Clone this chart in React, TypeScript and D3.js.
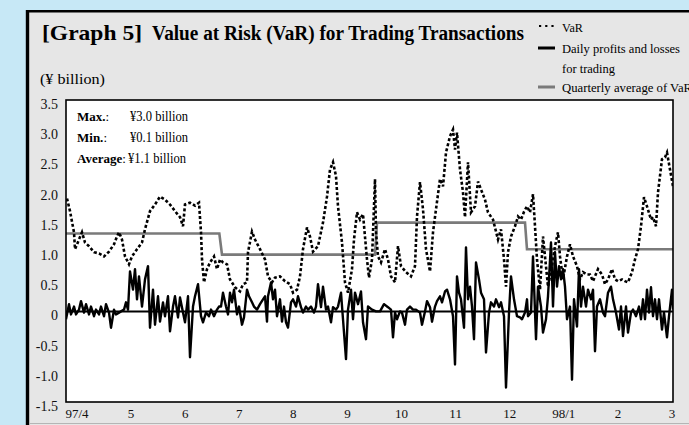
import React, { useEffect, useRef } from 'react';
import * as d3 from 'd3';

const monthLabels = ['97/4', '5', '6', '7', '8', '9', '10', '11', '12', '98/1', '2', '3'];
const yTicks = [3.5, 3.0, 2.5, 2.0, 1.5, 1.0, 0.5, 0, -0.5, -1.0, -1.5];

// [days since 97/4/1, ¥ billion]
const varSeries: [number, number][] = [
  [0.6, 1.87], [2.4, 1.66], [4.8, 1.31], [5.4, 1.03], [7.8, 1.19], [9.6, 1.31], [11.4, 1.14],
  [13.8, 1.08], [16.8, 0.98], [19.8, 0.96], [22.8, 0.91], [25.8, 0.99], [28.8, 1.11], [30.6, 1.24],
  [31.8, 1.31], [33.6, 1.19], [35.4, 0.91], [37.8, 0.78], [39.6, 0.91], [42.6, 1.03], [45.6, 1.14],
  [47.4, 1.36], [50.4, 1.66], [53.4, 1.77], [56.4, 1.9], [59.4, 1.85], [62.4, 1.77], [65.4, 1.66],
  [68.4, 1.56], [70.2, 1.41], [71.4, 1.77], [74.4, 1.8], [77.4, 1.75], [79.8, 1.8], [81, 1.31],
  [81.6, 0.86], [82.8, 0.48], [84.6, 0.7], [86.4, 0.81], [88.8, 0.91], [90.6, 0.7], [92.4, 0.86],
  [94.2, 0.81], [96.6, 0.78], [98.4, 0.53], [101.4, 0.4], [104.4, 0.33], [106.2, 0.45], [108.6, 0.48],
  [109.2, 0.98], [111.6, 1.32], [113.4, 1.19], [116.4, 1.03], [119.4, 0.86], [121.2, 0.58],
  [123.6, 0.48], [125.4, 0.56], [128.4, 0.58], [131.4, 0.5], [134.4, 0.45], [136.2, 0.31],
  [138.6, 0.36], [140.4, 0.58], [142.2, 1.03], [144.6, 1.39], [146.4, 1.24], [148.2, 0.99],
  [151.2, 1.08], [154.2, 1.47], [156.6, 1.9], [158.4, 2.35], [160.2, 2.47], [162, 2.24],
  [163.2, 1.74], [165.6, 1.14], [167.4, 0.48], [169.2, 0.31], [171.6, 0.7], [172.8, 1.19],
  [174.6, 1.64], [176.4, 1.52], [178.2, 1.61], [180.6, 0.86], [181.8, 0.56], [183.6, 0.86],
  [185.4, 2.19], [186, 1.31], [187.2, 0.91], [189, 0.81], [191.4, 1.03], [193.2, 0.86], [195, 0.58],
  [197.4, 0.48], [199.2, 1.08], [201, 0.75], [204, 0.65], [207, 0.58], [209.4, 0.75], [210.6, 1.57],
  [212.4, 2.14], [214.2, 1.69], [216, 1.03], [218.4, 0.66], [220.2, 1.31], [222, 1.69], [224.4, 2.19],
  [226.2, 2.07], [228, 2.63], [230.4, 2.9], [232.2, 3.01], [233.4, 2.68], [234.6, 2.96], [236.4, 2.35],
  [238.2, 1.97], [239.4, 1.56], [241.2, 2.47], [243, 1.64], [245.4, 1.74], [247.2, 2.15], [249, 2.02],
  [251.4, 1.85], [253.2, 1.64], [256.2, 1.52], [259.2, 1.19], [261, 1.36], [262.8, 0.86], [264, 0.41],
  [265.2, 0.98], [267, 1.24], [269.4, 1.41], [271.2, 1.57], [273, 1.52], [274.8, 1.65], [276.6, 1.74],
  [278.4, 1.64], [280.2, 1.94], [281.4, 1.41], [282.6, 0.86], [284.4, 0.36], [286.2, 1.24],
  [287.4, 0.91], [289.2, 0.41], [291.6, 0.75], [293.4, 1.08], [295.2, 1.31], [296.4, 0.91],
  [298.2, 0.53], [300.6, 0.91], [302.4, 1.11], [304.2, 0.91], [306.6, 0.75], [308.4, 0.53],
  [310.2, 0.65], [312.6, 0.61], [314.4, 0.61], [316.2, 0.5], [319.2, 0.7], [321.6, 0.61],
  [323.4, 0.45], [325.2, 0.53], [327.6, 0.7], [329.4, 0.53], [331.2, 0.5], [333.6, 0.53],
  [335.4, 0.5], [337.2, 0.48], [339.6, 0.65], [341.4, 0.86], [343.2, 1.03], [345, 1.41], [346.8, 1.89],
  [348.6, 1.74], [351, 1.52], [352.2, 1.56], [354, 1.41], [355.2, 1.97], [357.6, 2.52], [359.4, 2.55],
  [360.6, 2.63], [362.4, 2.35], [364.2, 2.07],
];

const pnlSeries: [number, number][] = [
  [0, -0.13], [1.8, 0.12], [3, -0.05], [4.8, 0.08], [6, -0.05], [7.8, 0.03], [9, 0.17], [10.8, -0.02],
  [12, 0.12], [13.8, -0.05], [15, 0.08], [16.8, -0.08], [18, 0.03], [19.8, -0.05], [21, 0.08],
  [22.8, -0.08], [24, 0.12], [25.8, -0.02], [27, -0.27], [28.8, 0.03], [30, -0.05], [31.8, -0.02],
  [33, 0], [34.8, 0.03], [36, 0.15], [37.2, 0.03], [38.4, 0.66], [40.2, 0.36], [41.4, 0.7], [42.6, 0.2],
  [43.8, 0.58], [45.6, 0.08], [47.4, 0.53], [49.2, 0.75], [50.4, -0.27], [52.2, 0.36], [53.4, -0.22],
  [55.2, 0.25], [56.4, -0.17], [58.2, 0.15], [59.4, -0.08], [61.2, 0.25], [62.4, -0.33], [64.2, 0.08],
  [65.4, 0.25], [67.2, -0.1], [68.4, 0.23], [70.2, -0.02], [71.4, -0.18], [73.2, 0.25], [74.4, -0.76],
  [76.2, 0.08], [77.4, 0.25], [79.2, 0.45], [81, -0.08], [82.2, -0.18], [84, -0.02], [85.8, -0.08],
  [87, 0.03], [88.8, -0.08], [90.6, 0.03], [91.8, 0.08], [93, 0.08], [94.2, 0.31], [96, 0.08],
  [97.2, -0.05], [98.4, 0.31], [99.6, 0.15], [100.8, 0.36], [102.6, -0.05], [103.8, 0.08],
  [105.6, -0.22], [106.8, -0.1], [108.6, 0.36], [109.8, 0.25], [111.6, 0.15], [112.8, 0.08],
  [114.6, 0.03], [116.4, 0.12], [118.2, 0.2], [119.4, 0.25], [120.6, -0.17], [121.2, 0.25], [123, 0.48],
  [124.2, 0.2], [125.4, 0.36], [126.6, -0.08], [128.4, 0.2], [129.6, -0.17], [130.8, 0.08], [132, -0.18],
  [133.2, -0.27], [135, 0.15], [136.2, 0.2], [138, 0.08], [139.2, 0.25], [141, 0.07], [142.2, -0.02],
  [144, 0.08], [145.2, 0.03], [147, 0.08], [148.8, -0.02], [150, 0.08], [151.2, 0.45], [153, 0.07],
  [154.2, 0.41], [156, 0.03], [157.2, 0.08], [159, -0.18], [160.2, 0.07], [162, 0.03], [163.2, 0.08],
  [165, 0.31], [166.2, -0.13], [168, -0.79], [169.2, 0.03], [171, 0.36], [172.2, -0.13], [173.4, 0.31],
  [175.2, 0.12], [177, 0.33], [178.2, -0.18], [180, -0.46], [181.2, 0.08], [183.6, 0.03], [186, 0],
  [188.4, 0], [190.8, 0.12], [193.2, 0.07], [195, 0.03], [196.2, -0.43], [197.4, -0.02], [198.6, -0.13],
  [200.4, 0], [201.6, -0.02], [203.4, -0.22], [204.6, 0.03], [206.4, 0.08], [208.2, 0.03], [210, 0.03],
  [212.4, -0.02], [213.6, -0.22], [215.4, 0], [216.6, 0.17], [218.4, 0.07], [219.6, -0.17], [221.4, 0.08],
  [222.6, 0.17], [224.4, 0.25], [225.6, 0.15], [227.4, 0.33], [228.6, 0.36], [230.4, 0.2], [232.2, -0.08],
  [233.4, -0.88], [234.6, 0.58], [235.8, 0.31], [237, 0.2], [238.8, -0.27], [240, 1.06], [241.2, 0.2],
  [242.4, 0.41], [243.6, 0.08], [244.8, -0.46], [246, 0.81], [247.8, 0.53], [249, 0.31], [250.8, 0.2],
  [252, -0.68], [253.8, -0.02], [255, 0.15], [256.8, 0.08], [258, 0.2], [259.8, 0.07], [261, 0.15],
  [262.8, -0.08], [264, -1.26], [265.8, -0.02], [267, 0.58], [268.8, 0.2], [270.6, -0.08], [272.4, -0.1],
  [273.6, -0.13], [275.4, -0.02], [276.6, 0.2], [277.2, -0.08], [279, -0.02], [280.2, 0.91],
  [282, -0.46], [283.2, 0.41], [285, 0.08], [286.2, -0.35], [288, -0.13], [289.2, 0.25], [291, 1.14],
  [292.2, 0.08], [293.4, 0.98], [294.6, 0.41], [295.8, 0.75], [297, 0.53], [298.2, 0.7], [299.4, 0.41],
  [300.6, -0.13], [302.4, 0.08], [303.6, -1.13], [304.8, 0.2], [306.6, -0.25], [307.8, 0.7], [309, 0.08],
  [310.2, 0.41], [312, 0.08], [313.2, 0.36], [315, 0.2], [316.2, 0.36], [317.4, -0.66], [318.6, 0.08],
  [320.4, 0.2], [322.2, -0.02], [323.4, -0.08], [325.2, 0.31], [327, 0.41], [328.2, 0.2], [330, -0.02],
  [331.8, -0.3], [333, 0.08], [334.2, -0.41], [336, 0.08], [337.2, -0.35], [339, -0.02], [340.2, 0.03],
  [342, -0.08], [343.8, 0.08], [345, -0.13], [346.2, 0.2], [347.4, -0.13], [348.6, 0.36], [349.8, -0.02],
  [351, 0.4], [352.2, -0.08], [353.4, 0.2], [354.6, -0.13], [355.8, 0.2], [357.6, -0.3], [358.8, -0.02],
  [360.6, -0.43], [361.8, -0.08], [363.6, 0.36], [364.2, 0.03],
];

const quarterStart = [0, 93.6, 186.6, 276.6];
const quarterEnd = [92, 185.4, 275.4, 364.2];
const quarterAvg = [1.29, 0.94, 1.47, 1.03];

const statLabels = ['Max.', 'Min.', 'Average'];
const statValues = ['¥3.0 billion', '¥0.1 billion', '¥1.1 billion'];

const W = 689;
const H = 425;
const plot = { left: 66, top: 100, right: 673, bottom: 402 };
const serif = '"Liberation Serif", "Times New Roman", serif';

export default function App() {
  const ref = useRef<SVGSVGElement>(null);

  useEffect(() => {
    const svg = d3.select(ref.current);
    svg.selectAll('*').remove();

    const x = d3.scaleLinear().domain([0, 364.2]).range([plot.left, plot.right]);
    const y = d3.scaleLinear().domain([-1.5, 3.5]).range([plot.bottom, plot.top]);
    const xLabel = d3.scalePoint().domain(monthLabels).range([x(6.6), x(363.6)]);

    // backgrounds
    svg.append('rect').attr('width', W).attr('height', H).attr('fill', '#c7e8f6');
    svg.append('rect').attr('x', 27).attr('y', 11).attr('width', W).attr('height', H)
      .attr('fill', '#e6e6e6');
    svg.append('line').attr('x1', 27.5).attr('x2', 27.5).attr('y1', 10).attr('y2', H)
      .attr('stroke', '#000').attr('stroke-width', 3.4);
    svg.append('line').attr('x1', 26).attr('x2', W).attr('y1', 11.3).attr('y2', 11.3)
      .attr('stroke', '#000').attr('stroke-width', 2.6);
    svg.append('line').attr('x1', 29).attr('x2', W).attr('y1', 423.5).attr('y2', 423.5)
      .attr('stroke', '#b5b5b5').attr('stroke-width', 1);

    svg.append('rect')
      .attr('x', plot.left).attr('y', plot.top)
      .attr('width', plot.right - plot.left).attr('height', plot.bottom - plot.top)
      .attr('fill', '#fff');

    svg.append('clipPath').attr('id', 'plotclip').append('rect')
      .attr('x', plot.left).attr('y', plot.top)
      .attr('width', plot.right - plot.left).attr('height', plot.bottom - plot.top);

    const g = svg.append('g').attr('clip-path', 'url(#plotclip)');
    const line = d3.line<[number, number]>().x(d => x(d[0])).y(d => y(d[1]));

    // quarterly average of VaR
    const quarterPts: [number, number][] = [];
    quarterAvg.forEach((v, i) => {
      quarterPts.push([quarterStart[i], v]);
      quarterPts.push([quarterEnd[i], v]);
    });
    g.append('path').attr('d', line(quarterPts)).attr('fill', 'none')
      .attr('stroke', '#7a7a7a').attr('stroke-width', 2.6);

    // VaR
    g.append('path').attr('d', line(varSeries)).attr('fill', 'none')
      .attr('stroke', '#000').attr('stroke-width', 2.6).attr('stroke-dasharray', '3,2.2');

    // zero line
    g.append('line').attr('x1', plot.left).attr('x2', plot.right)
      .attr('y1', y(0)).attr('y2', y(0)).attr('stroke', '#000').attr('stroke-width', 2);

    // daily profits and losses
    g.append('path').attr('d', line(pnlSeries)).attr('fill', 'none')
      .attr('stroke', '#000').attr('stroke-width', 2.4).attr('stroke-linejoin', 'round');

    svg.append('rect')
      .attr('x', plot.left).attr('y', plot.top)
      .attr('width', plot.right - plot.left).attr('height', plot.bottom - plot.top)
      .attr('fill', 'none').attr('stroke', '#000').attr('stroke-width', 1.6);

    // y axis labels
    svg.append('g').selectAll('text').data(yTicks).enter().append('text')
      .attr('x', 58).attr('y', d => y(d) + 9)
      .attr('text-anchor', 'end')
      .style('font-family', serif).style('font-size', '14px').attr('fill', '#111')
      .text(d => (d === 0 ? '0' : d.toFixed(1)));

    // x axis labels
    svg.append('g').selectAll('text').data(monthLabels).enter().append('text')
      .attr('x', d => xLabel(d) as number).attr('y', 418)
      .attr('text-anchor', 'middle')
      .style('font-family', serif).style('font-size', '13px').attr('fill', '#111')
      .text(d => d);

    // title
    svg.append('text').attr('x', 42).attr('y', 40)
      .attr('textLength', 100).attr('lengthAdjust', 'spacingAndGlyphs')
      .style('font-family', serif).style('font-size', '21px').style('font-weight', 'bold')
      .text('[Graph 5]');
    svg.append('text').attr('x', 152).attr('y', 40)
      .attr('textLength', 372).attr('lengthAdjust', 'spacingAndGlyphs')
      .style('font-family', serif).style('font-size', '20px').style('font-weight', 'bold')
      .text('Value at Risk (VaR) for Trading Transactions');

    svg.append('text').attr('x', 40).attr('y', 84)
      .attr('textLength', 65).attr('lengthAdjust', 'spacingAndGlyphs')
      .style('font-family', serif).style('font-size', '14px')
      .text('(¥ billion)');

    // legend
    const leg = svg.append('g').style('font-family', serif).style('font-size', '13px');
    leg.append('line').attr('x1', 539).attr('x2', 556).attr('y1', 26).attr('y2', 26)
      .attr('stroke', '#000').attr('stroke-width', 2.2).attr('stroke-dasharray', '2.2,4');
    leg.append('text').attr('x', 562).attr('y', 32)
      .attr('textLength', 21).attr('lengthAdjust', 'spacingAndGlyphs')
      .text('VaR');
    leg.append('line').attr('x1', 538).attr('x2', 555).attr('y1', 48).attr('y2', 48)
      .attr('stroke', '#000').attr('stroke-width', 3);
    leg.append('text').attr('x', 562).attr('y', 53)
      .attr('textLength', 118).attr('lengthAdjust', 'spacingAndGlyphs')
      .text('Daily profits and losses');
    leg.append('text').attr('x', 562).attr('y', 73)
      .attr('textLength', 53).attr('lengthAdjust', 'spacingAndGlyphs')
      .text('for trading');
    leg.append('line').attr('x1', 538).attr('x2', 555).attr('y1', 87).attr('y2', 87)
      .attr('stroke', '#7a7a7a').attr('stroke-width', 3);
    leg.append('text').attr('x', 562).attr('y', 92)
      .attr('textLength', 130).attr('lengthAdjust', 'spacingAndGlyphs')
      .text('Quarterly average of VaR');

    // stats box
    const st = svg.append('g').style('font-family', serif).style('font-size', '13px');
    statLabels.forEach((lab, i) => {
      const t = st.append('text').attr('x', 77).attr('y', 121 + i * 21);
      t.append('tspan').style('font-weight', 'bold').text(lab);
      t.append('tspan').text(':');
      st.append('text').attr('x', i === 2 ? 128 : 130).attr('y', 121 + i * 21)
        .style('font-size', '14px')
        .attr('textLength', 58).attr('lengthAdjust', 'spacingAndGlyphs')
        .text(statValues[i]);
    });
  }, []);

  return (
    <svg
      ref={ref}
      width={W}
      height={H}
      style={{ position: 'absolute', left: 0, top: 0, display: 'block' }}
    />
  );
}
